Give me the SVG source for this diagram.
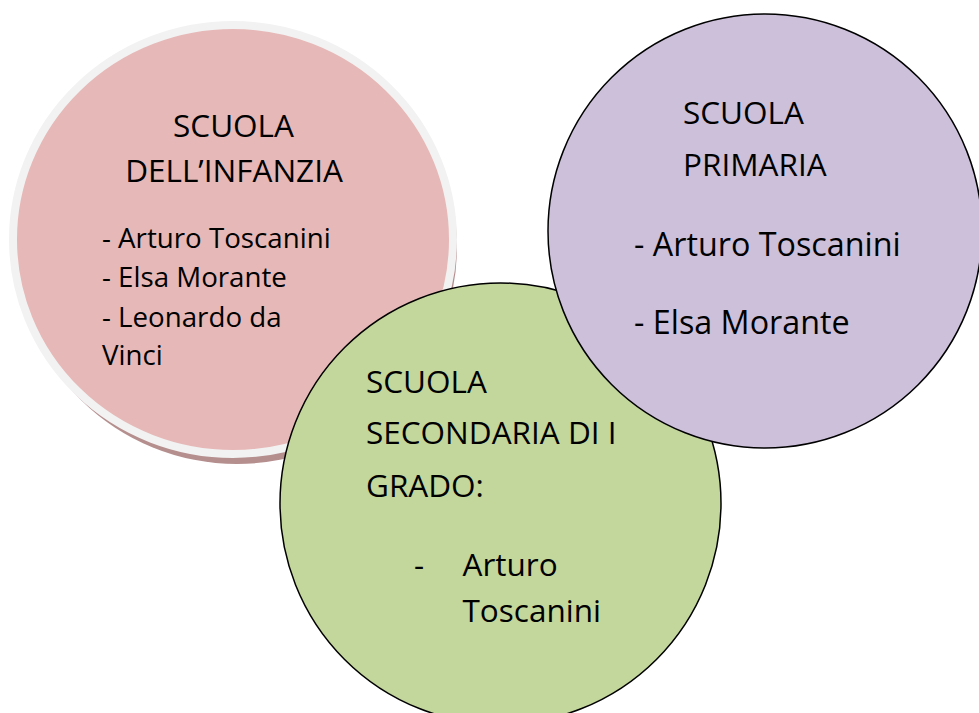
<svg xmlns="http://www.w3.org/2000/svg" width="979" height="713" viewBox="0 0 979 713">
<style>
  .t { font-family: "Open Sans", "Noto Sans", sans-serif; fill: #000; }
  .h { font-size: 31.5px; }
  .l { font-size: 27.7px; }
  .lb { font-size: 32.3px; }
  .c { stroke: #000; stroke-width: 1.5; }
</style>
<rect width="979" height="713" fill="#fff"/>
<g id="node-infanzia">
  <ellipse cx="237" cy="247" rx="220" ry="217" fill="#b58e8e"/>
  <ellipse cx="233" cy="239.5" rx="220" ry="214.5" fill="#e6b8b7" stroke="#f2f2f2" stroke-width="8"/>
  <text class="t h" x="233.5" y="137" text-anchor="middle">SCUOLA</text>
  <text class="t h" x="234" y="181.5" text-anchor="middle">DELL’INFANZIA</text>
  <text class="t l" x="102" y="248">- Arturo Toscanini</text>
  <text class="t l" x="102" y="287">- Elsa Morante</text>
  <text class="t l" x="102" y="326.5">- Leonardo da</text>
  <text class="t l" x="102" y="365">Vinci</text>
</g>
<g id="node-secondaria">
  <circle class="c" cx="500.5" cy="503.5" r="220.5" fill="#c3d69b"/>
  <text class="t h" x="366" y="392.5">SCUOLA</text>
  <text class="t h" x="366" y="444">SECONDARIA DI I</text>
  <text class="t h" x="366" y="497">GRADO:</text>
  <text class="t h" x="414" y="576">-</text>
  <text class="t h" x="462.5" y="576">Arturo</text>
  <text class="t h" x="462.5" y="622">Toscanini</text>
</g>
<g id="node-primaria">
  <circle class="c" cx="765" cy="231" r="217" fill="#ccc0da"/>
  <text class="t h" x="683" y="124">SCUOLA</text>
  <text class="t h" x="683" y="176">PRIMARIA</text>
  <text class="t lb" x="634" y="256">- Arturo Toscanini</text>
  <text class="t lb" x="634" y="334">- Elsa Morante</text>
</g>
<g id="connectors"></g>
</svg>
